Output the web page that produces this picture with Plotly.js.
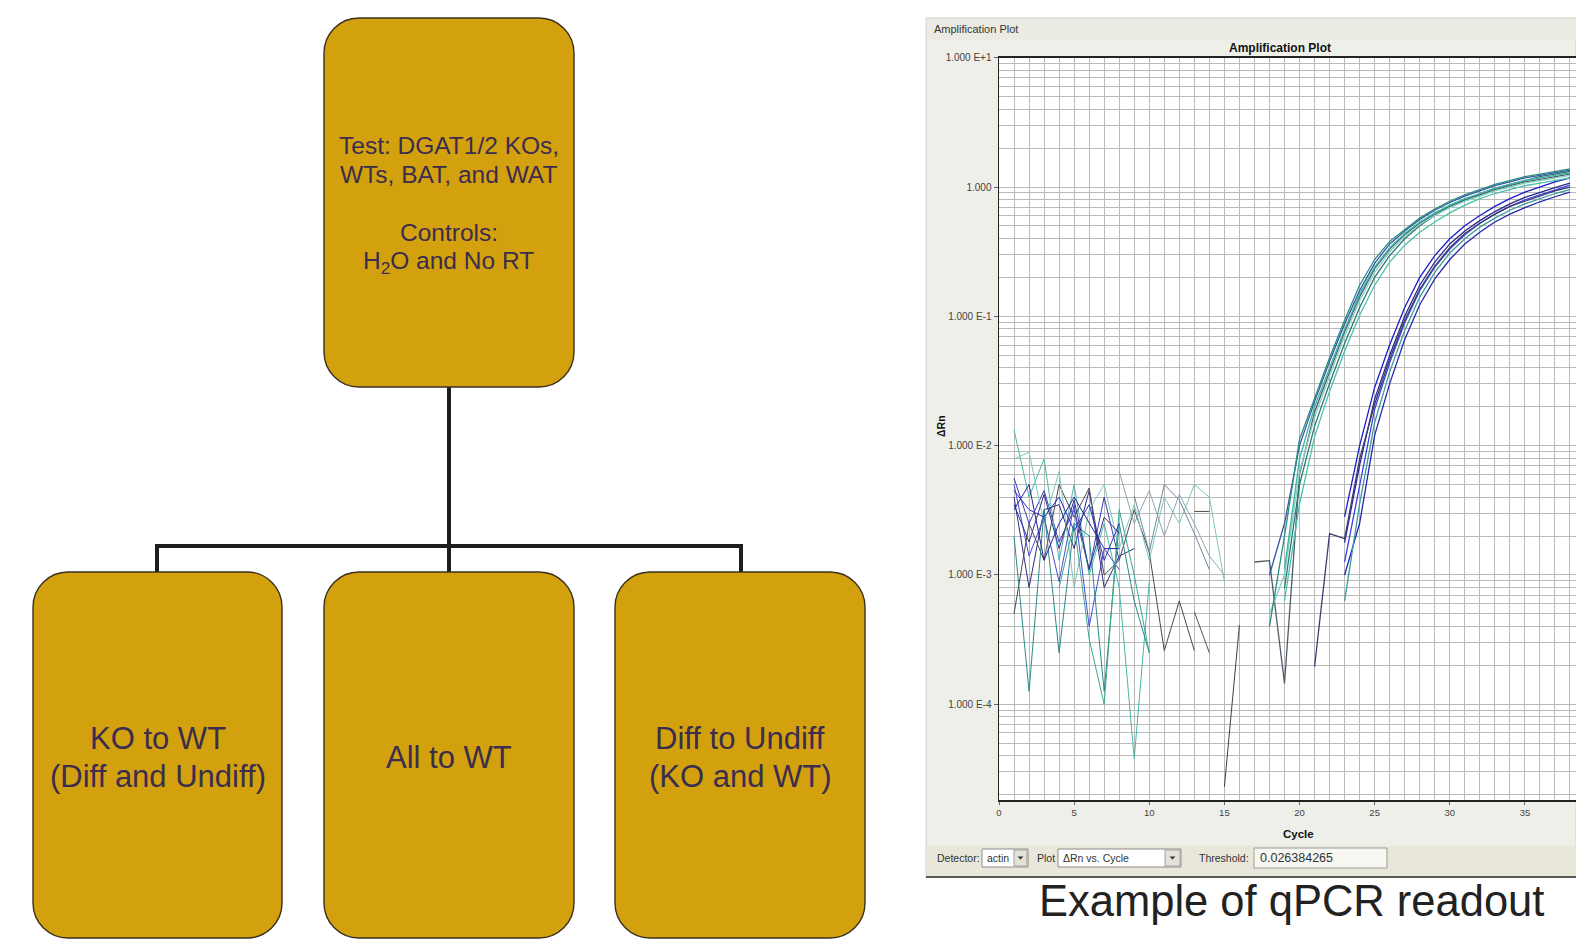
<!DOCTYPE html>
<html><head><meta charset="utf-8">
<script src="https://cdn.plot.ly/plotly-3.0.1.min.js"></script>
<style>html,body{margin:0;padding:0;background:#fff;}#chart{width:1576px;height:940px;}</style>
</head><body><div id="chart"></div>
<script>
// ---------------- DATA ----------------
const flowTopLines = ['Test: DGAT1/2 KOs,', 'WTs, BAT, and WAT', 'Controls:', 'H<sub>2</sub>O and No RT'];
const flowChildren = [['KO to WT', '(Diff and Undiff)'], ['All to WT'], ['Diff to Undiff', '(KO and WT)']];

const threshold = 0.026384265;
const detectorName = 'actin';
const plotName = 'ΔRn vs. Cycle';

const yTickVals = [1e-4, 1e-3, 1e-2, 1e-1, 1, 10];
const yTickText = ['1.000 E-4', '1.000 E-3', '1.000 E-2', '1.000 E-1', '1.000', '1.000 E+1'];

const ampCycles = [17,18,19,20,21,22,23,24,25,26,27,28,29,30,31,32,33,34,35,36,37,38];
// early-amplifying wells
const wellT1 = [null,0.0004,0.002,0.0112,0.0234,0.0479,0.0933,0.174,0.275,0.380,0.468,0.575,0.676,0.776,0.871,0.955,1.047,1.122,1.202,1.259,1.318,1.380];
const wellT2 = [null,null,0.00112,0.0079,0.020,0.040,0.079,0.148,0.240,0.339,0.437,0.537,0.631,0.724,0.813,0.891,0.977,1.047,1.122,1.175,1.230,1.288];
const wellT3 = [null,0.0005,0.001,0.0063,0.0166,0.0347,0.0708,0.132,0.219,0.316,0.417,0.513,0.603,0.692,0.776,0.851,0.933,1.0,1.072,1.122,1.175,1.230];
const wellT4 = [null,null,0.00079,0.0050,0.0141,0.0302,0.0617,0.117,0.200,0.295,0.398,0.501,0.603,0.708,0.794,0.891,0.977,1.047,1.122,1.202,1.259,1.318];
const wellT5 = [null,null,0.00063,0.00355,0.0117,0.0263,0.0537,0.102,0.174,0.263,0.355,0.447,0.537,0.631,0.724,0.813,0.891,0.955,1.023,1.072,1.122,1.175];
const wellT6 = [null,0.001,0.0025,0.01,0.0219,0.0447,0.0871,0.158,0.257,0.363,0.457,0.562,0.661,0.759,0.851,0.933,1.023,1.096,1.175,1.230,1.288,1.349];
const wellT7 = [0.00126,0.00129,0.000145,0.006,0.0182,0.0372,0.0759,0.141,0.234,0.331,0.427,0.525,0.617,0.708,0.794,0.871,0.955,1.023,1.096,1.148,1.202,1.259];
// late-amplifying wells
const wellB1 = [null,null,null,null,null,null,0.00282,0.01,0.0282,0.0603,0.117,0.200,0.295,0.398,0.501,0.603,0.708,0.813,0.912,1.0,1.096,1.175];
const wellB2 = [null,null,null,null,null,null,0.00178,0.00708,0.0229,0.0501,0.1,0.174,0.263,0.363,0.457,0.550,0.646,0.741,0.832,0.912,0.991,1.072];
const wellB3 = [null,null,null,null,null,null,0.00126,0.00501,0.0191,0.0437,0.0891,0.158,0.240,0.331,0.427,0.525,0.617,0.708,0.794,0.871,0.955,1.035];
const wellB4 = [null,null,null,null,null,null,0.00063,0.00355,0.0151,0.0372,0.0776,0.141,0.219,0.309,0.398,0.490,0.575,0.661,0.741,0.813,0.891,0.955];
const wellB5 = [null,null,null,null,null,null,0.001,0.00251,0.0120,0.0302,0.0661,0.123,0.195,0.275,0.363,0.447,0.537,0.617,0.692,0.769,0.841,0.912];
const wellB6 = [null,null,null,null,0.000195,0.00209,0.00191,0.0079,0.0209,0.0468,0.0933,0.162,0.245,0.339,0.437,0.525,0.617,0.708,0.776,0.851,0.933,1.0];

const noiseCycles = [1,2,3,4,5,6,7,8,9,10,11,12,13,14,15,16];
const noiseA = [0.0056,0.0025,0.0045,0.0018,0.0032,0.0011,0.004,0.0013,null,null,null,null,null,null,null,null];
const noiseB = [0.0132,0.004,0.0079,0.0013,0.005,0.001,0.0025,0.0008,0.000038,0.00089,null,null,null,null,null,null];
const noiseC = [0.004,0.0008,0.0032,0.0035,0.0016,0.0045,0.0008,0.0014,0.0016,null,null,null,null,null,null,null];
const noiseD = [0.0005,0.0025,0.0013,0.005,0.0028,0.0047,0.001,0.0013,0.0032,0.0015,0.00026,0.00063,0.00026,null,null,null];
const noiseE = [0.0079,0.0089,0.0025,0.0063,0.0008,0.0032,0.005,0.0016,0.0035,0.0013,0.004,0.0025,0.005,0.004,0.00089,null];
const noiseF = [0.005,0.0014,0.0028,0.00089,0.0035,0.0004,0.0016,0.0011,null,null,null,null,null,null,null,null];
const noiseG = [0.002,0.000126,0.0032,0.00025,0.0025,0.002,0.000126,0.0025,0.00063,0.00025,null,null,null,null,null,null];
const noiseH = [null,null,null,null,null,null,null,0.0063,0.0025,0.0045,0.002,0.0042,0.0025,0.0014,0.001,null];
const noiseI = [null,null,null,null,null,null,null,null,0.0041,0.0015,0.005,0.0038,0.0021,0.0011,null,null];
const noiseJ = [null,null,null,null,null,null,null,null,null,null,null,null,0.0031,0.0031,null,null];
const noiseK = [null,null,null,0.0008,0.0025,0.00032,0.0001,0.0032,0.001,0.00025,null,null,null,null,null,null];
const noiseL = [0.0032,0.005,0.0013,0.0025,0.004,0.0025,0.0016,0.0016,null,null,null,null,null,null,null,null];
const noiseM = [null,null,null,null,null,null,null,null,null,null,null,null,0.00052,0.00025,null,null];
const noiseN = [null,null,null,null,null,null,null,null,null,null,null,null,null,null,0.000023,0.00041];
const noiseO = [0.0045,0.0032,0.0028,0.004,0.0022,0.0035,0.0013,0.0025,null,null,null,null,null,null,null,null];
const noiseP = [0.0035,0.0018,0.0042,0.0016,0.0038,0.0011,0.0028,0.0021,null,null,null,null,null,null,null,null];

// ---------------- STYLE / LAYOUT ----------------
const W = 1576, H = 940;
const px = x => x / W, py = y => 1 - y / H;
const FONT = '"Liberation Sans", Arial, sans-serif';

const noiseStyle = [
  [noiseA,'#3a3ab8'],[noiseB,'#48b8a8'],[noiseC,'#2c2c80'],[noiseD,'#4a4a55'],
  [noiseE,'#7cc8bc'],[noiseF,'#4848d0'],[noiseG,'#2a8a88'],[noiseH,'#95a5a8'],
  [noiseI,'#7088a0'],[noiseJ,'#505050'],[noiseK,'#3aa890'],[noiseL,'#2222a0'],
  [noiseM,'#555560'],[noiseN,'#404048'],[noiseO,'#2f2fc0'],[noiseP,'#303090']
];
const ampStyle = [
  [wellB5,'#2626b0'],[wellB4,'#3a9c98'],[wellB3,'#4040e0'],[wellB2,'#2a2a88'],[wellB6,'#3c3c70'],[wellB1,'#1c1cc8'],
  [wellT7,'#4f5a66'],[wellT5,'#48c0a8'],[wellT4,'#2f7578'],[wellT3,'#7fd0c0'],[wellT2,'#3cb4a0'],[wellT6,'#3458a8'],[wellT1,'#2a8c80']
];

const traces = [];
noiseStyle.forEach(([y,c]) => traces.push({x: noiseCycles, y: y, type:'scatter', mode:'lines', connectgaps:false,
  line:{color:c, width:1}, hoverinfo:'skip'}));
ampStyle.forEach(([y,c]) => traces.push({x: ampCycles, y: y, type:'scatter', mode:'lines', connectgaps:false,
  line:{color:c, width:1.3}, hoverinfo:'skip'}));

const minorY = [];
for (let d = -5; d <= 0; d++) for (let k = 2; k <= 9; k++) minorY.push(k * Math.pow(10, d));

function rrect(x0, y0, x1, y1, r) {
  const k = 0.5523 * r;
  const P = (x, y) => px(x) + ',' + py(y);
  return 'M ' + P(x0 + r, y0) + ' L ' + P(x1 - r, y0) +
    ' C ' + P(x1 - r + k, y0) + ' ' + P(x1, y0 + r - k) + ' ' + P(x1, y0 + r) +
    ' L ' + P(x1, y1 - r) +
    ' C ' + P(x1, y1 - r + k) + ' ' + P(x1 - r + k, y1) + ' ' + P(x1 - r, y1) +
    ' L ' + P(x0 + r, y1) +
    ' C ' + P(x0 + r - k, y1) + ' ' + P(x0, y1 - r + k) + ' ' + P(x0, y1 - r) +
    ' L ' + P(x0, y0 + r) +
    ' C ' + P(x0, y0 + r - k) + ' ' + P(x0 + r - k, y0) + ' ' + P(x0 + r, y0) + ' Z';
}
function tri(cx, cy, s) {
  const P = (x, y) => px(x) + ',' + py(y);
  return 'M ' + P(cx - s, cy - s / 2) + ' L ' + P(cx + s, cy - s / 2) + ' L ' + P(cx, cy + s / 2) + ' Z';
}
const boxFill = '#D3A10E', boxLine = '#3a3020', connColor = '#1e1e1e';
const topBox = [324, 18, 574, 387];
const childBoxes = [[33, 572, 282, 938], [324, 572, 574, 938], [615, 572, 865, 938]];

const shapes = [];
function rect(x0, y0, x1, y1, fill, lc, lw, layer) {
  shapes.push({type:'rect', xref:'paper', yref:'paper', x0:px(x0), x1:px(x1), y0:py(y1), y1:py(y0),
    fillcolor:fill, line:{color:lc, width:lw}, layer: layer || 'below'});
}
function line(x0, y0, x1, y1, c, w, layer) {
  shapes.push({type:'line', xref:'paper', yref:'paper', x0:px(x0), x1:px(x1), y0:py(y0), y1:py(y1),
    line:{color:c, width:w}, layer: layer || 'below'});
}
// qPCR window panel
rect(926, 18, 1576, 877, '#efefea', '#d2d2ca', 1);
rect(927, 19, 1576, 40, '#ebebe4', 'rgba(0,0,0,0)', 0);
rect(927, 846, 1576, 876, '#e9e7da', 'rgba(0,0,0,0)', 0);
line(926, 877, 1576, 877, '#5a5a5a', 2);
rect(999, 57.7, 1576, 800, '#ffffff', 'rgba(0,0,0,0)', 0);
// control boxes
rect(982, 849, 1028, 867, '#ffffff', '#8a8a8a', 1);
rect(1014, 850, 1027, 866, '#e4e2d8', '#a0a0a0', 1);
rect(1058, 849, 1181, 867, '#ffffff', '#8a8a8a', 1);
rect(1165, 850, 1180, 866, '#e4e2d8', '#a0a0a0', 1);
rect(1254, 848, 1387, 868, '#f7f7f2', '#9a9a9a', 1);
shapes.push({type:'path', xref:'paper', yref:'paper', path: tri(1020.5, 858, 3), fillcolor:'#333', line:{width:0}, layer:'above'});
shapes.push({type:'path', xref:'paper', yref:'paper', path: tri(1172.5, 858, 3), fillcolor:'#333', line:{width:0}, layer:'above'});
// threshold line
shapes.push({type:'line', xref:'paper', yref:'y', x0:px(995), x1:1, y0:Math.log10(threshold), y1:Math.log10(threshold),
  line:{color:'#12b012', width:3}, layer:'above'});
// flowchart connectors
line(449, 387, 449, 546, connColor, 4, 'above');
line(155, 546, 743, 546, connColor, 4, 'above');
line(157, 544, 157, 572, connColor, 4, 'above');
line(449, 546, 449, 572, connColor, 4, 'above');
line(741, 544, 741, 572, connColor, 4, 'above');
// flowchart boxes
shapes.push({type:'path', xref:'paper', yref:'paper', path: rrect(...topBox, 35), fillcolor: boxFill, line:{color:boxLine, width:1.4}, layer:'above'});
childBoxes.forEach(b => shapes.push({type:'path', xref:'paper', yref:'paper', path: rrect(...b, 35), fillcolor: boxFill, line:{color:boxLine, width:1.4}, layer:'above'}));

const annotations = [];
function txt(text, x, y, size, opts) {
  const o = opts || {};
  annotations.push({text: text, x: px(x), y: py(y), xref:'paper', yref:'paper', showarrow:false,
    xanchor: o.xanchor || 'center', yanchor:'middle', textangle: o.textangle || 0,
    font:{family:FONT, size:size, color: o.color || '#333'}});
}
const flowTextColor = '#3b2d4d';
const topLineY = [145, 174, 233, 262];
flowTopLines.forEach((t, i) => txt(t, (topBox[0] + topBox[2]) / 2, topLineY[i], 24.5, {color: flowTextColor}));
flowChildren.forEach((lines, i) => {
  const b = childBoxes[i];
  const cx = (b[0] + b[2]) / 2;
  if (lines.length === 1) txt(lines[0], cx, 757, 31, {color: flowTextColor});
  else lines.forEach((t, j) => txt(t, cx, 738 + 38 * j, 31, {color: flowTextColor}));
});
txt('Amplification Plot', 932, 29, 11, {xanchor:'left'});
txt('<b>Amplification Plot</b>', 1280, 48, 12, {color:'#111'});
txt('<b>Cycle</b>', 1298, 834, 11.5, {color:'#111'});
txt('<b>ΔRn</b>', 941, 426, 10.5, {textangle:-90, color:'#111'});
txt('Detector:', 935, 858, 10.5, {xanchor:'left'});
txt(detectorName, 985, 858, 10.5, {xanchor:'left'});
txt('Plot', 1035, 858, 10.5, {xanchor:'left'});
txt(plotName, 1061, 858, 10.5, {xanchor:'left'});
txt('Threshold:', 1197, 858, 10.5, {xanchor:'left'});
txt(String(threshold), 1258, 858, 12.5, {xanchor:'left'});
txt('Example of qPCR readout', 1291, 901, 43.5, {color:'#222'});

const gridC = '#b9b9b9';
const layout = {
  width: W, height: H, margin:{l:0, r:0, t:0, b:0}, showlegend:false,
  paper_bgcolor:'#ffffff', plot_bgcolor:'#ffffff',
  font:{family:FONT, color:'#333'},
  xaxis:{domain:[px(999), 1], range:[0, 38.4], tickmode:'linear', tick0:0, dtick:5,
    showgrid:true, gridcolor:gridC, gridwidth:1,
    minor:{dtick:1, showgrid:true, gridcolor:gridC, gridwidth:1},
    showline:true, mirror:true, linecolor:'#222', linewidth:1.5,
    ticks:'outside', ticklen:3, tickcolor:'#666', tickfont:{family:FONT, size:9.5, color:'#444'},
    zeroline:false, fixedrange:true, automargin:false},
  yaxis:{domain:[py(800), py(57.7)], type:'log', range:[-4.74, 1],
    tickmode:'array', tickvals:yTickVals, ticktext:yTickText,
    showgrid:true, gridcolor:gridC, gridwidth:1,
    minor:{tickmode:'array', tickvals:minorY, showgrid:true, gridcolor:gridC, gridwidth:1, ticks:''},
    showline:true, linecolor:'#222', linewidth:1.5,
    ticks:'outside', ticklen:4, tickcolor:'#666', tickfont:{family:FONT, size:10, color:'#444'},
    zeroline:false, fixedrange:true, automargin:false},
  shapes: shapes,
  annotations: annotations
};
Plotly.newPlot('chart', traces, layout, {displayModeBar:false, staticPlot:true});
</script>
</body></html>
